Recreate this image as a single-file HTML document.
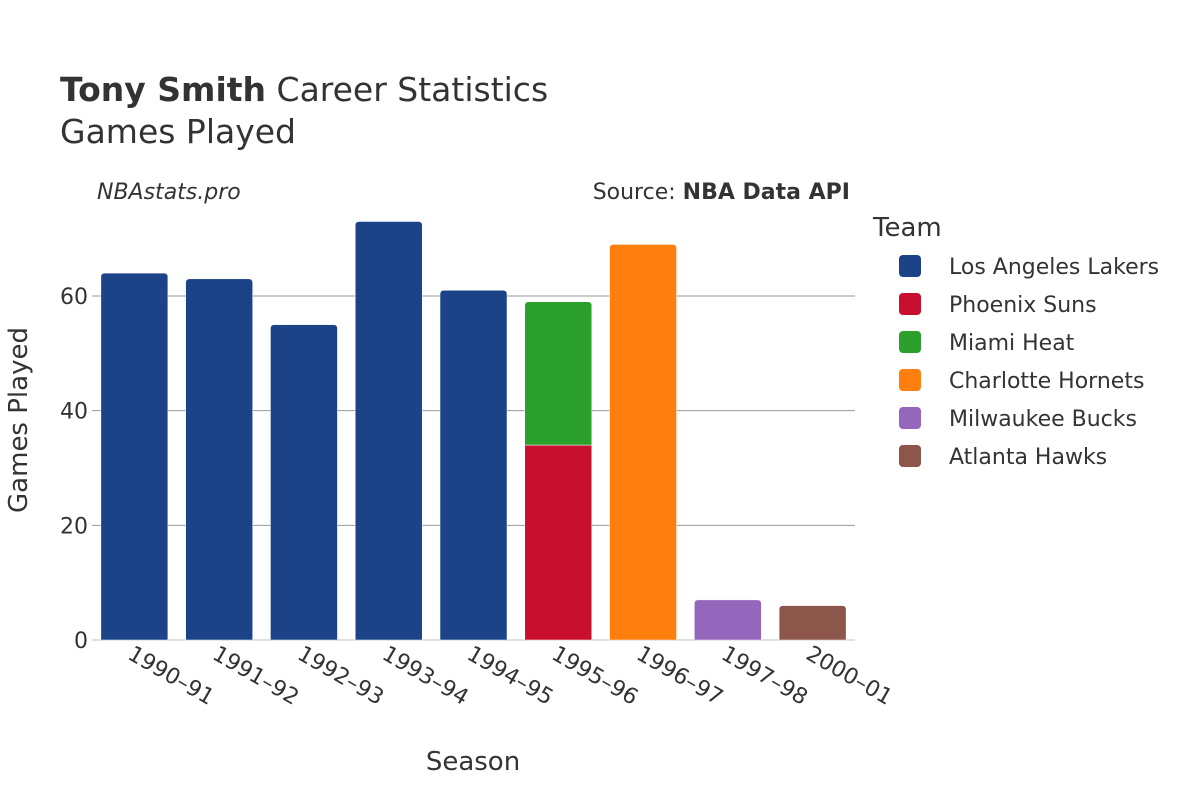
<!DOCTYPE html>
<html><head><meta charset="utf-8"><style>
body{margin:0;background:#fff;}
svg text{font-family:"DejaVu Sans","Liberation Sans",sans-serif;fill:#333;}
</style></head><body>
<svg id="chart" width="1200" height="800" xmlns="http://www.w3.org/2000/svg">
<text x="60" y="101" font-size="33"><tspan font-weight="bold">Tony Smith</tspan> Career Statistics</text>
<text x="60" y="143" font-size="33">Games Played</text>
<text x="97" y="199" font-size="22" font-style="italic">NBAstats.pro</text>
<text x="850" y="199" font-size="22" text-anchor="end">Source: <tspan font-weight="bold">NBA Data API</tspan></text>
<g id="grid"></g><g id="bars"></g><g id="xticks"></g><g id="yticks"></g>
<text x="473" y="770" font-size="26" text-anchor="middle">Season</text>
<text transform="translate(27,420) rotate(-90)" font-size="26" text-anchor="middle">Games Played</text>
<text x="873" y="236" font-size="26">Team</text>
<g id="legend"></g>
</svg>
<script>
const seasons=["1990–91","1991–92","1992–93","1993–94","1994–95","1995–96","1996–97","1997–98","2000–01"];
const teams=["Los Angeles Lakers","Phoenix Suns","Miami Heat","Charlotte Hornets","Milwaukee Bucks","Atlanta Hawks"];
const colors=["#1c4388","#c8102e","#2ca02c","#ff7f0e","#9467bd","#8c564b"];
const lakers=[64,63,55,73,61,0,0,0,0];
const suns=[0,0,0,0,0,34,0,0,0];
const heat=[0,0,0,0,0,25,0,0,0];
const hornets=[0,0,0,0,0,0,69,0,0];
const bucks=[0,0,0,0,0,0,0,7,0];
const hawks=[0,0,0,0,0,0,0,0,6];
const series=[lakers,suns,heat,hornets,bucks,hawks];
const yTicks=[0,20,40,60];
const NS="http://www.w3.org/2000/svg";
const x0=92,x1=855,y0=640,yPer=5.733;
const band=(x1-x0)/seasons.length,bw=67;
const X=i=>x0+band*(i+0.5);
const Y=v=>y0-v*yPer;
function mk(t,a,p){const e=document.createElementNS(NS,t);for(const k in a)e.setAttribute(k,a[k]);document.getElementById(p).appendChild(e);return e;}
yTicks.forEach(v=>{
  const l=mk("line",{x1:x0,x2:x1,y1:Y(v),y2:Y(v),stroke:v===0?"#e0e0e0":"#999","stroke-width":v===0?2:1},"grid");
  
  
  const t=mk("text",{x:88,y:Y(v)+8,"font-size":22,"text-anchor":"end"},"yticks");
  t.textContent=v;
  
  
});
seasons.forEach((s,i)=>{
  let base=0;
  const segs=[];
  series.forEach((arr,k)=>{if(arr[i]>0){segs.push([k,base,arr[i]]);base+=arr[i];}});
  segs.forEach(([k,b,v],j)=>{
    const top=j===segs.length-1;
    const xl=X(i)-bw/2,xr=X(i)+bw/2,yt=Y(b+v),yb=Y(b),r=top?4:0;
    const d=`M${xl},${yb}L${xl},${yt+r}Q${xl},${yt} ${xl+r},${yt}L${xr-r},${yt}Q${xr},${yt} ${xr},${yt+r}L${xr},${yb}Z`;
    const p=mk("path",{d,fill:colors[k],stroke:"#fff","stroke-width":0.5},"bars");
    
    
  });
  const t=mk("text",{transform:`translate(${X(i)-8},${658}) rotate(30)`,"font-size":22},"xticks");
  t.textContent=s;
  
  
});
teams.forEach((tm,k)=>{
  const y=266+k*38;
  const r=mk("rect",{x:899,y:y-11,width:22,height:22,rx:4,fill:colors[k]},"legend");
  
  
  const t=mk("text",{x:949,y:y+8,"font-size":22},"legend");
  t.textContent=tm;
  
  
});
</script>
</body></html>
